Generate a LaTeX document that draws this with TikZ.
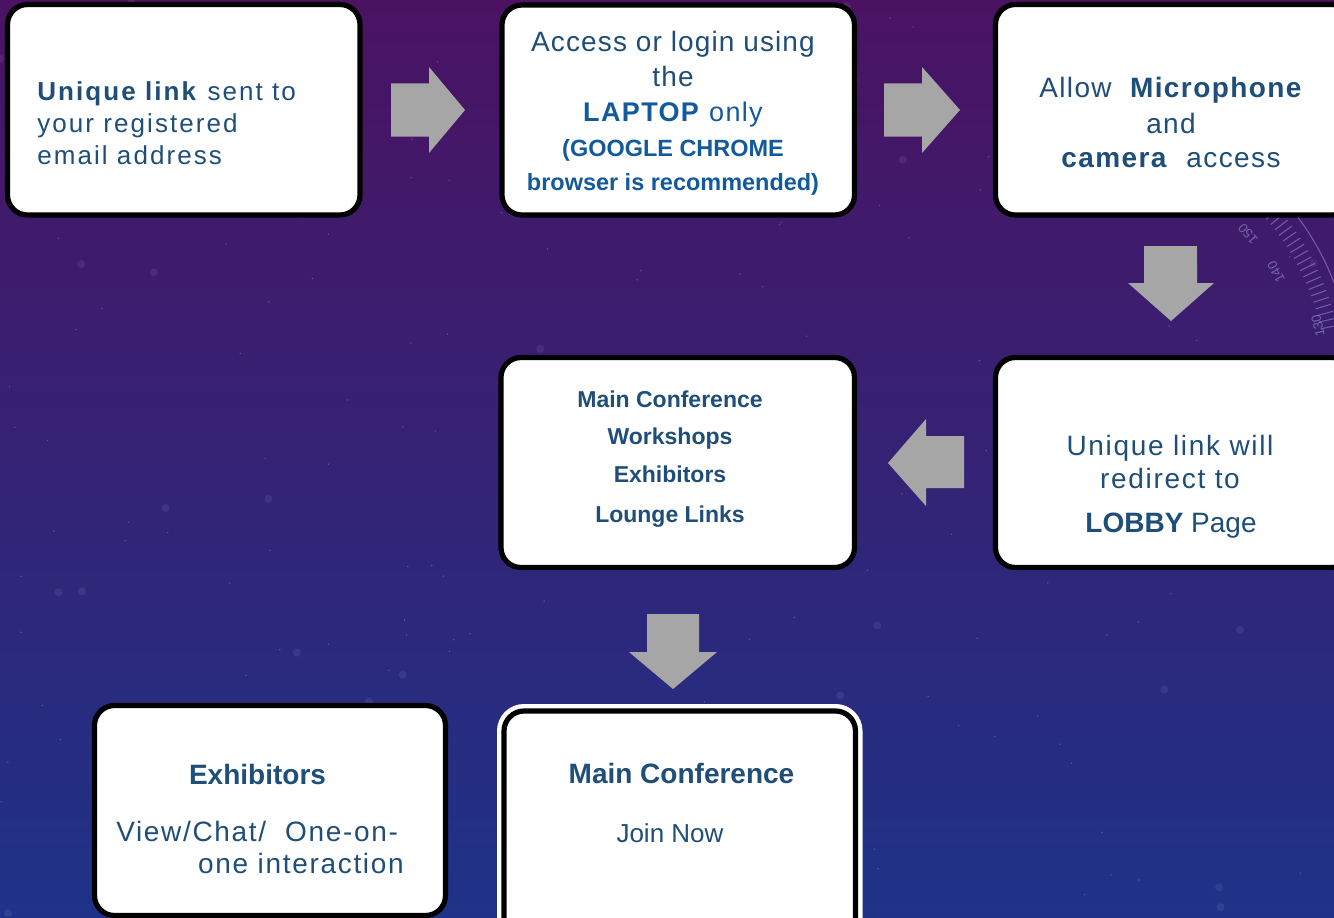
\documentclass[tikz,border=0pt]{standalone}
\usepackage{fontspec}
\setmainfont{Liberation Sans}
\newfontfamily\trkA[LetterSpace=8]{Liberation Sans}
\newfontfamily\trkB[LetterSpace=5]{Liberation Sans}
\newfontfamily\trkD[LetterSpace=4]{Liberation Sans}
\newfontfamily\trkC[LetterSpace=6]{Liberation Sans}
\definecolor{tblue}{HTML}{1F4E79}
\definecolor{bblue}{HTML}{125A9B}
\definecolor{agray}{HTML}{A6A6A6}
\definecolor{bgtop}{HTML}{4B1262}
\definecolor{bgmid}{HTML}{33206F}
\definecolor{bgbot}{HTML}{1E3388}
\definecolor{dialc}{HTML}{9A94CF}
\newcommand{\rbox}[6][box]{\node[#1, minimum width={(#5-#3)*0.75pt}, minimum height={(#6-#4)*0.75pt}] (#2) at ({(#3+#5)/2},{(#4+#6)/2}) {};}
\begin{document}
\begin{tikzpicture}[x=0.75pt,y=-0.75pt,
  box/.style={draw=black, line width=3.9pt, fill=white, rounded corners=15pt, inner sep=0pt},
  boxw/.style={box, preaction={draw=white, line width=10.5pt}},
  txt/.style={text=tblue, inner sep=0pt},
  dialtxt/.style={text=dialc, opacity=0.6, inner sep=0pt, font=\fontsize{10}{10}\selectfont},
  blockarrow/.style={fill=agray, draw=none},
  dialline/.style={draw=dialc, line width=0.8pt, opacity=0.55}]
\useasboundingbox (0,0) rectangle (1334,917);
\clip (0,0) rectangle (1334,917);
% background
\fill[top color=bgtop, middle color=bgmid, bottom color=bgbot] (0,0) rectangle (1334,917);
\pgfmathsetseed{11}
\foreach \i in {1,...,160}{
  \pgfmathsetmacro\sx{rnd*1334}
  \pgfmathsetmacro\sy{rnd*917}
  \fill[white, opacity=0.22] (\sx,\sy) circle[radius=0.6pt];
}
\foreach \i in {1,...,40}{
  \pgfmathsetmacro\sx{rnd*1334}
  \pgfmathsetmacro\sy{rnd*917}
  \fill[white, opacity=0.07] (\sx,\sy) circle[radius=3pt];
}
% faint dial
\begin{scope}[shift={(1080,380)}, yscale=-1]
  \draw[dialline] (5:272) arc[start angle=5, end angle=60, radius=272];
  \foreach \a in {12,13.6,...,52}{\draw[dialline] (\a:246) -- (\a:262);}
\end{scope}
\node[dialtxt, rotate=130] (d150) at (1248,234) {150};
\node[dialtxt, rotate=118] (d140) at (1276,272) {140};
\node[dialtxt, rotate=102] (d130) at (1318,326) {130};
% boxes
\rbox{b1}{7.5}{4.5}{360}{215}
\rbox{b2}{502}{5}{854.5}{215}
\rbox{b3}{995.5}{4.5}{1352}{215}
\rbox{b4}{995.5}{357.5}{1352}{567.5}
\rbox{b5}{501}{357.5}{854.5}{567.5}
\rbox[boxw]{b6}{504}{711}{855.5}{945}
\rbox{b7}{94.5}{705.5}{445.5}{915.5}
% block arrows
\fill[blockarrow] (391,83.5) -- (429,83.5) -- (429,67) -- (465,110) -- (429,153) -- (429,136.5) -- (391,136.5) -- cycle;
\fill[blockarrow] (884,83.5) -- (922,83.5) -- (922,67) -- (960,110) -- (922,153) -- (922,136.5) -- (884,136.5) -- cycle;
\fill[blockarrow] (1144,246) -- (1197,246) -- (1197,283) -- (1214,283) -- (1171,321) -- (1128,283) -- (1144,283) -- cycle;
\fill[blockarrow] (964,436) -- (926,436) -- (926,419) -- (888,463) -- (926,506) -- (926,488) -- (964,488) -- cycle;
\fill[blockarrow] (647,614) -- (699,614) -- (699,652) -- (717,652) -- (673,689) -- (629,652) -- (647,652) -- cycle;
% box 1 text
\node[txt, anchor=base west, font=\fontsize{19.5}{22}\selectfont\trkA] (t1a) at (37,100) {\textbf{Unique link} sent to};
\node[txt, anchor=base west, font=\fontsize{19.5}{22}\selectfont\trkA] (t1b) at (37,132) {your registered};
\node[txt, anchor=base west, font=\fontsize{19.5}{22}\selectfont\trkA] (t1c) at (37,164) {email address};
% box 2 text
\node[txt, anchor=base, font=\fontsize{21}{24}\selectfont\trkD] (t2a) at (673,52) {Access or login using};
\node[txt, anchor=base, font=\fontsize{21}{24}\selectfont\trkD] (t2b) at (673,87) {the};
\node[txt, text=bblue, anchor=base, font=\fontsize{20.25}{24}\selectfont\trkB] (t2c) at (673,121) {\textbf{LAPTOP} only};
\node[txt, text=bblue, anchor=base, font=\fontsize{17.6}{20}\selectfont\bfseries] (t2d) at (673,156) {(GOOGLE CHROME};
\node[txt, text=bblue, anchor=base, font=\fontsize{17.6}{20}\selectfont\bfseries] (t2e) at (673,190) {browser is recommended)};
% box 3 text
\node[txt, anchor=base, font=\fontsize{21}{24}\selectfont\trkB] (t3a) at (1171,98) {Allow\ \ \textbf{Microphone}};
\node[txt, anchor=base, font=\fontsize{21}{24}\selectfont\trkB] (t3b) at (1171,133) {and};
\node[txt, anchor=base, font=\fontsize{21}{24}\selectfont\trkB] (t3c) at (1171,167) {\textbf{camera}\ \ access};
% box 4 text
\node[txt, anchor=base, font=\fontsize{21}{24}\selectfont\trkC] (t4a) at (1170,455) {Unique link will};
\node[txt, anchor=base, font=\fontsize{21}{24}\selectfont\trkC] (t4b) at (1170,488) {redirect to};
\node[txt, anchor=base, font=\fontsize{21}{24}\selectfont] (t4c) at (1171,532) {\textbf{LOBBY} Page};
% box 5 text
\node[txt, anchor=base, font=\fontsize{17.25}{20}\selectfont\bfseries] (t5a) at (670,407) {Main Conference};
\node[txt, anchor=base, font=\fontsize{17.25}{20}\selectfont\bfseries] (t5b) at (670,444) {Workshops};
\node[txt, anchor=base, font=\fontsize{17.25}{20}\selectfont\bfseries] (t5c) at (670,482) {Exhibitors};
\node[txt, anchor=base, font=\fontsize{17.25}{20}\selectfont\bfseries] (t5d) at (670,522) {Lounge Links};
% box 6 text
\node[txt, anchor=base, font=\fontsize{21}{24}\selectfont\bfseries] (t6a) at (681.5,783) {Main Conference};
\node[txt, anchor=base, font=\fontsize{19.5}{22}\selectfont] (t6b) at (670,842) {Join Now};
% box 7 text
\node[txt, anchor=base, font=\fontsize{21}{24}\selectfont\bfseries] (t7a) at (257.5,784) {Exhibitors};
\node[txt, anchor=base west, font=\fontsize{21}{24}\selectfont\trkC] (t7b) at (116,841) {View/Chat/\ \ One-on-};
\node[txt, anchor=base east, font=\fontsize{21}{24}\selectfont\trkC] (t7c) at (404,873) {one interaction};
\end{tikzpicture}
\end{document}
